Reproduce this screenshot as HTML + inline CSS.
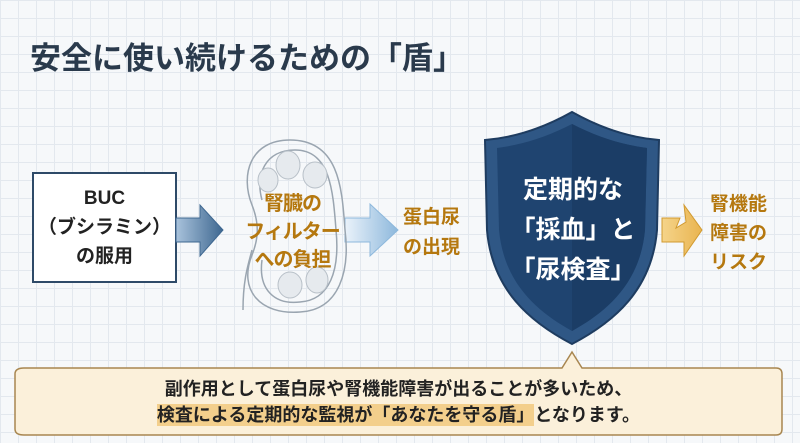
<!DOCTYPE html>
<html><head><meta charset="utf-8"><style>
body{margin:0;width:800px;height:443px;overflow:hidden;font-family:"Liberation Sans","Noto Sans CJK JP",sans-serif;
background-color:#f6f8fa;background-image:linear-gradient(#e3e8ee 1px,transparent 1px),linear-gradient(90deg,#e3e8ee 1px,transparent 1px);background-size:18px 18px;position:relative}
.a{position:absolute;font-weight:bold;white-space:nowrap}
.or{color:#b5780f}
</style></head><body>
<div class="a" style="left:30px;top:33px;font-size:31px;color:#2a3a4c">安全に使い続けるための「盾」</div>
<div class="a" style="left:32px;top:172px;width:141px;height:107px;border:2.5px solid #2e4a68;background:#fff;text-align:center;font-size:19px;line-height:29px;color:#222;display:flex;align-items:center;justify-content:center">BUC<br>（ブシラミン）<br>の服用</div>
<svg class="a" style="left:0;top:0" width="800" height="443">
<defs>
<linearGradient id="g1" x1="0" x2="1"><stop offset="0" stop-color="#a9c3dc"/><stop offset="1" stop-color="#3e6790"/></linearGradient>
<linearGradient id="g2" x1="0" x2="1"><stop offset="0" stop-color="#eaf2fa"/><stop offset="1" stop-color="#8db8dc"/></linearGradient>
<linearGradient id="g3" x1="0" x2="1"><stop offset="0" stop-color="#f5d48a"/><stop offset="1" stop-color="#e9b450"/></linearGradient>
</defs>
<polygon points="176,218 200,218 200,205 223,230 200,256 200,242 176,242" fill="url(#g1)" stroke="#3e6790" stroke-width="1"/>
<polygon points="345,218 370,218 370,204 398,230 370,256 370,242 345,242" fill="url(#g2)" stroke="#8db8dc" stroke-width="1"/>
<g fill="none" stroke="#9aa5b0" stroke-width="1.5">
<path d="M290,140 C250,140 240,175 252,205 C260,225 258,240 252,255 C238,290 260,315 300,312 C340,310 350,270 345,230 C342,190 340,140 290,140Z"/>
<path d="M295,150 C265,150 255,175 262,200 M262,260 C258,290 275,305 300,302 C330,300 340,270 336,230 C333,190 330,150 295,150"/>
<path d="M243,310 C243,280 248,265 252,250"/>
</g>
<g fill="#e6eaee" stroke="#b8c0c8"><ellipse cx="288" cy="165" rx="12" ry="14"/><ellipse cx="315" cy="175" rx="12" ry="13"/><ellipse cx="268" cy="180" rx="10" ry="12"/><ellipse cx="290" cy="285" rx="12" ry="13"/><ellipse cx="317" cy="280" rx="11" ry="13"/></g>
<path d="M662,218 L680,218 L676,228 L686,222 L684,205 L702,230 L684,256 L684,242 L662,242Z" fill="url(#g3)" stroke="#d19a30"/>
<path d="M572,112 C540,130 510,138 485,140 L487,230 C492,290 530,322 572,344 C614,322 652,290 657,230 L659,140 C634,138 604,130 572,112Z" fill="#2f5785" stroke="#1e3c60" stroke-width="2"/>
<path d="M572,124 C545,138 520,145 497,148 L499,230 C504,284 538,312 572,331 C606,312 640,284 645,230 L647,148 C624,145 599,138 572,124Z" fill="#1f4470"/>
<path d="M572,124 L572,331 C606,312 640,284 645,230 L647,148 C624,145 599,138 572,124Z" fill="#1b3d66"/>
<path d="M24,368 L562,368 L572,352 L582,368 L776,368 Q782,368 782,374 L782,429 Q782,435 776,435 L24,435 Q15,435 15,429 L15,374 Q15,368 24,368Z" fill="#fbf0da" stroke="#a88650" stroke-width="1.5"/>
</svg>
<div class="a or" style="left:240px;top:190px;width:105px;text-align:center;font-size:20px;line-height:28px;letter-spacing:-1px">腎臓の<br>フィルター<br>への負担</div>
<div class="a or" style="left:403px;top:203px;font-size:19px;line-height:30px">蛋白尿<br>の出現</div>
<div class="a" style="left:500px;top:170px;width:146px;text-align:center;color:#fff;font-size:25px;line-height:40px">定期的な<br>「採血」と<br>「尿検査」</div>
<div class="a or" style="left:710px;top:190px;font-size:19px;line-height:29px">腎機能<br>障害の<br>リスク</div>
<div class="a" style="left:15px;top:376px;width:767px;text-align:center;font-size:18px;line-height:26px;color:#222">副作用として蛋白尿や腎機能障害が出ることが多いため、<br><span style="background:#f3cf8c;padding:1px 0">検査による定期的な監視が「あなたを守る盾」</span>となります。</div>
</body></html>
